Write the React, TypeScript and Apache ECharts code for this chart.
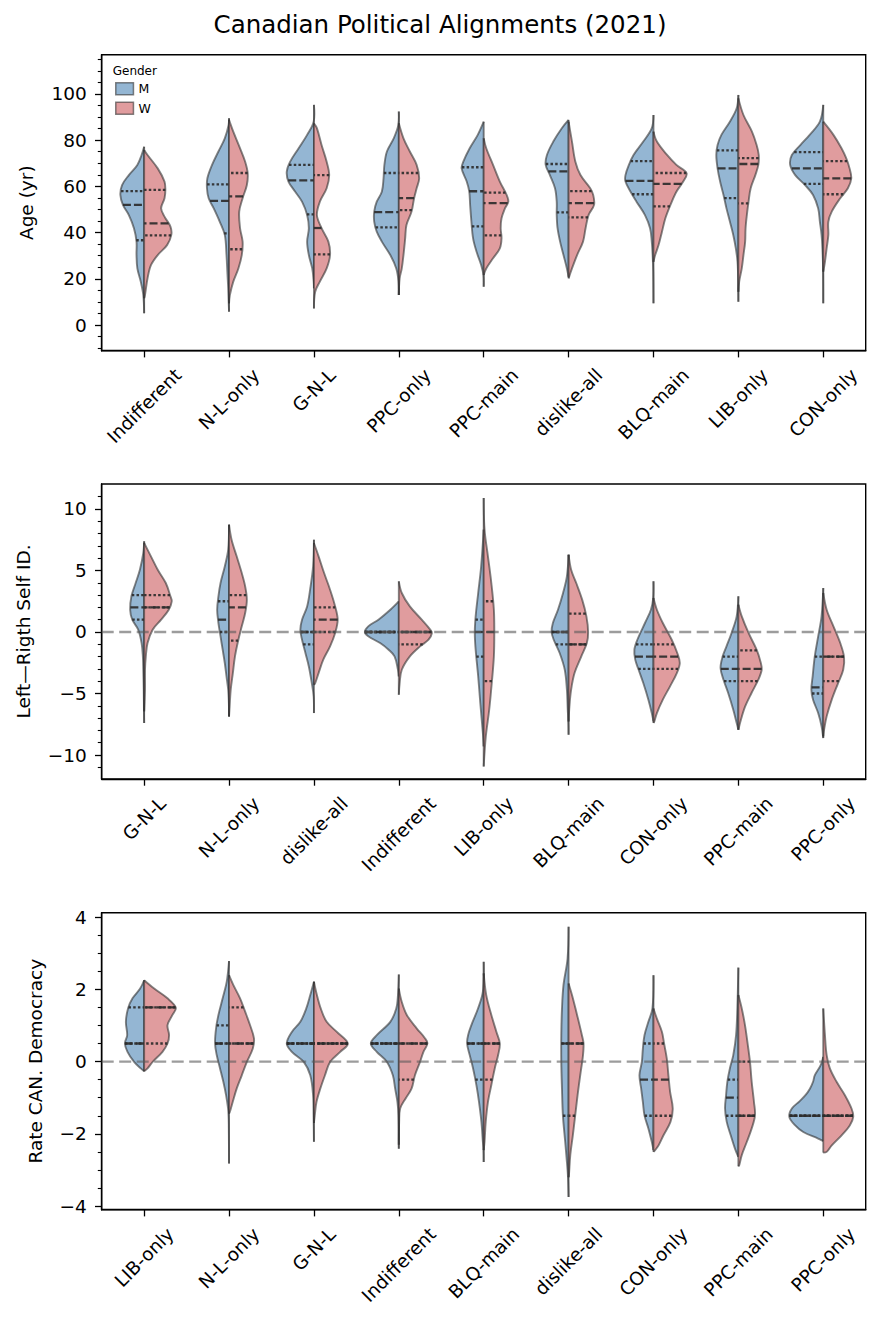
import React, { useEffect, useRef } from 'react';
import * as echarts from 'echarts';

type Pt = [number, number];

// ---------------- Panel 1: Age ----------------
const ageCats = ['Indifferent', 'N-L-only', 'G-N-L', 'PPC-only', 'PPC-main', 'dislike-all', 'BLQ-main', 'LIB-only', 'CON-only'];
const ageMen: Pt[][] = [
  [[77.2,0],[73.6,.03],[69.3,.08],[64.9,.18],[60.6,.26],[56.3,.28],[52.0,.25],[47.6,.18],[41.9,.12],[36.1,.09],[30.3,.09],[24.5,.08],[18.8,.04],[13.0,.01],[5.1,0]],
  [[89.5,0],[86.6,.005],[80.8,.05],[75.1,.125],[69.3,.2],[63.5,.255],[59.2,.26],[54.9,.24],[50.5,.18],[44.8,.11],[39.0,.05],[30.3,.03],[23.1,.02],[15.9,.01],[8.7,.003],[5.8,0]],
  [[95.3,0],[88.0,.003],[82.3,.08],[76.5,.18],[70.7,.28],[66.4,.32],[62.1,.3],[57.7,.22],[53.4,.14],[47.6,.08],[41.9,.06],[36.1,.08],[30.3,.06],[24.5,.02],[18.8,.003],[15.9,0]],
  [[92.4,0],[86.6,.005],[80.8,.06],[75.1,.14],[69.3,.17],[63.5,.18],[57.7,.2],[53.4,.26],[49.1,.29],[44.8,.29],[40.4,.26],[36.1,.2],[30.3,.1],[24.5,.03],[18.8,.003],[13.0,0]],
  [[88.0,0],[82.3,.07],[76.5,.165],[70.7,.24],[67.8,.26],[62.1,.2],[57.7,.17],[52.0,.16],[44.8,.145],[37.5,.125],[31.8,.085],[26.0,.03],[21.7,.003],[16.6,0]],
  [[88.8,0],[85.2,.08],[79.4,.18],[73.6,.255],[69.3,.27],[64.9,.22],[59.2,.16],[53.4,.14],[47.6,.14],[41.9,.13],[36.1,.1],[30.3,.06],[24.5,.02],[20.9,0]],
  [[90.9,0],[85.2,.02],[79.4,.12],[73.6,.235],[69.3,.29],[64.9,.33],[62.1,.33],[57.7,.27],[53.4,.2],[47.6,.1],[41.9,.04],[36.1,.02],[30.3,.01],[23.1,.003],[9.4,0]],
  [[99.6,0],[93.8,.02],[88.0,.1],[82.3,.2],[77.9,.245],[73.6,.26],[67.8,.245],[62.1,.215],[56.3,.175],[50.5,.14],[44.8,.1],[39.0,.06],[33.2,.03],[27.4,.01],[18.8,.002],[10.1,0]],
  [[95.3,0],[88.0,.04],[82.3,.16],[77.9,.27],[73.6,.37],[69.3,.39],[64.9,.33],[60.6,.215],[56.3,.12],[50.5,.06],[44.8,.04],[39.0,.02],[33.2,.01],[24.5,.002],[9.4,0]],
];
const ageWomen: Pt[][] = [
  [[75.8,0],[73.6,.04],[67.8,.16],[62.1,.24],[58.5,.25],[54.9,.24],[50.5,.2],[46.9,.24],[42.6,.31],[39.0,.32],[34.6,.27],[30.3,.16],[25.9,.08],[20.2,.04],[13.0,.01],[11.6,0]],
  [[88.8,0],[83.7,.05],[76.5,.13],[70.7,.19],[65.7,.22],[60.6,.21],[54.9,.16],[49.1,.12],[41.9,.13],[36.1,.16],[30.3,.15],[24.5,.11],[18.8,.05],[13.0,.01],[9.4,0]],
  [[87.3,0],[85.2,.035],[77.9,.09],[70.7,.15],[64.9,.18],[59.2,.15],[53.4,.07],[47.6,.035],[41.9,.09],[36.1,.17],[30.3,.19],[24.5,.15],[18.8,.07],[14.4,.015],[7.2,0]],
  [[87.3,0],[80.8,.055],[75.1,.13],[69.3,.21],[63.5,.24],[59.2,.21],[54.9,.18],[49.1,.15],[43.3,.09],[37.5,.075],[30.3,.055],[24.5,.035],[20.2,.01],[13.0,0]],
  [[80.8,0],[76.5,.03],[69.3,.11],[62.1,.19],[56.3,.27],[53.4,.29],[50.5,.25],[46.2,.21],[41.9,.2],[37.5,.21],[33.2,.19],[28.9,.11],[24.5,.03],[21.7,0]],
  [[88.0,0],[79.4,.04],[70.7,.08],[64.9,.14],[59.2,.255],[56.3,.29],[52.0,.3],[47.6,.235],[41.9,.2],[36.1,.17],[30.3,.1],[24.5,.04],[20.2,0]],
  [[83.7,0],[79.4,.04],[73.6,.16],[69.3,.27],[65.7,.39],[62.1,.35],[57.7,.27],[52.0,.2],[46.2,.14],[40.4,.1],[34.6,.06],[30.3,.02],[27.4,0]],
  [[98.1,0],[90.9,.06],[83.7,.16],[77.9,.215],[73.6,.24],[69.3,.235],[64.9,.2],[59.2,.145],[53.4,.12],[47.6,.1],[41.9,.085],[36.1,.08],[30.3,.06],[24.5,.04],[18.8,.01],[14.4,0]],
  [[88.0,0],[82.3,.12],[76.5,.215],[72.2,.27],[67.8,.31],[63.5,.33],[59.2,.29],[54.9,.2],[49.1,.1],[44.8,.06],[39.0,.06],[33.2,.04],[27.4,.02],[23.1,0]],
];
const ageMenQ = [[36.7,52.0,58.0],[39.7,53.7,60.9],[47.9,62.6,69.3],[42.3,48.9,65.8],[42.7,57.9,68.3],[48.8,66.5,69.7],[56.6,62.4,70.9],[54.9,67.8,75.6],[61.1,67.8,74.8]];
const ageWomenQ = [[38.8,44.0,58.5],[32.8,55.7,65.8],[30.6,42.0,64.9],[49.7,54.9,65.8],[38.8,52.8,57.3],[46.6,52.8,58.0],[51.4,61.1,65.8],[52.7,69.7,72.2],[56.6,63.5,70.9]];
const ageTicks = [0, 20, 40, 60, 80, 100];
const ageMinor = [-10,-5,5,10,15,25,30,35,45,50,55,65,70,75,85,90,95,105,110,115];

// ---------------- Panel 2: Left-Right ----------------
const lrCats = ['G-N-L', 'N-L-only', 'dislike-all', 'Indifferent', 'LIB-only', 'BLQ-main', 'CON-only', 'PPC-main', 'PPC-only'];
const lrMen: Pt[][] = [
  [[7.37,0],[6.42,.01],[5.06,.05],[3.98,.1],[2.9,.15],[1.81,.165],[1.0,.14],[0.19,.07],[-0.9,.03],[-1.98,.015],[-3.07,.01],[-4.69,.005],[-6.5,.002],[-7.4,0]],
  [[8.72,0],[6.69,.01],[5.33,.05],[3.98,.1],[2.9,.125],[1.81,.14],[0.73,.125],[-0.36,.1],[-1.44,.075],[-2.52,.05],[-3.61,.03],[-4.69,.01],[-5.78,.002],[-6.86,0]],
  [[7.5,0],[5.33,.01],[3.44,.045],[2.08,.08],[1.0,.14],[0.19,.16],[-0.63,.14],[-1.71,.1],[-2.8,.06],[-4.15,.025],[-5.23,.003],[-6.59,0]],
  [[2.49,0],[1.81,.1],[1.0,.24],[0.46,.36],[0,.4],[-0.35,.36],[-0.9,.22],[-1.44,.12],[-1.98,.05],[-3.07,.01],[-3.61,0]],
  [[8.32,0],[5.33,.03],[3.17,.065],[1.27,.095],[-0.08,.105],[-1.44,.095],[-3.61,.065],[-5.78,.04],[-8.21,.01],[-9.3,0]],
  [[6.28,0],[4.52,.02],[3.17,.065],[1.81,.125],[0.73,.185],[0,.2],[-0.63,.175],[-1.71,.105],[-3.07,.045],[-4.69,.02],[-6.32,.01],[-7.4,.002],[-8.35,0]],
  [[4.12,0],[2.76,.003],[1.81,.03],[0.73,.1],[-0.63,.19],[-1.44,.225],[-2.25,.215],[-3.07,.175],[-4.15,.12],[-5.5,.06],[-6.59,.02],[-7.27,0]],
  [[2.9,0],[1.27,.02],[-0.08,.08],[-1.17,.14],[-1.98,.185],[-2.93,.21],[-3.88,.175],[-4.96,.12],[-6.32,.06],[-7.4,.02],[-7.94,0]],
  [[3.57,0],[1.27,.02],[-0.36,.06],[-1.98,.1],[-3.61,.125],[-4.69,.14],[-5.5,.12],[-6.59,.06],[-7.67,.02],[-8.62,0]],
];
const lrWomen: Pt[][] = [
  [[7.23,0],[6.15,.08],[5.06,.16],[3.98,.255],[2.9,.31],[2.49,.325],[1.81,.29],[1.0,.2],[0.19,.1],[-0.9,.04],[-1.98,.02],[-3.07,.01],[-4.69,.01],[-6.45,0]],
  [[8.72,0],[7.5,.03],[6.15,.09],[4.79,.15],[3.71,.19],[2.63,.21],[1.54,.19],[0.46,.15],[-0.63,.11],[-1.98,.07],[-3.34,.045],[-4.69,.02],[-6.32,.005],[-6.86,0]],
  [[7.23,0],[6.15,.055],[4.79,.12],[3.44,.19],[2.08,.25],[1.0,.28],[-0.08,.25],[-1.17,.19],[-2.25,.11],[-3.34,.055],[-4.15,.015],[-4.29,0]],
  [[4.12,0],[3.17,.035],[2.08,.13],[1.0,.27],[0.19,.37],[-0.08,.39],[-0.63,.35],[-1.17,.25],[-1.98,.13],[-3.07,.035],[-4.15,.01],[-5.1,0]],
  [[10.89,0],[8.32,.01],[6.15,.05],[3.98,.09],[1.81,.12],[-0.08,.125],[-1.98,.12],[-4.15,.095],[-6.32,.065],[-8.49,.025],[-10.93,0]],
  [[6.28,0],[5.06,.03],[3.98,.09],[2.63,.16],[1.27,.21],[0,.23],[-0.9,.215],[-1.98,.15],[-3.34,.07],[-4.69,.03],[-6.05,.01],[-7.27,0]],
  [[2.76,0],[1.81,.04],[0.73,.11],[-0.63,.215],[-1.71,.28],[-2.52,.31],[-3.34,.275],[-4.42,.195],[-5.5,.11],[-6.59,.04],[-7.27,.01],[-7.4,0]],
  [[2.22,0],[1.27,.04],[-0.08,.12],[-1.44,.215],[-2.52,.265],[-3.07,.275],[-3.88,.235],[-4.96,.155],[-6.05,.08],[-7.13,.03],[-7.94,0]],
  [[3.17,0],[1.81,.04],[0.46,.12],[-0.9,.2],[-2.04,.245],[-3.07,.235],[-4.15,.175],[-5.5,.1],[-6.86,.04],[-7.94,.01],[-8.49,0]],
];
const lrMenQ = [[1,2,3],[0,1,2.5],[-1,0,0],[0,0,0],[-2,0,1],[-1,0,0],[-3,-2,-1],[-4,-3,-2],[-5,-4.5,-2]];
const lrWomenQ = [[2,2,3],[-0.7,2,3],[0,1,2],[-1,0,0],[-4,0,2.5],[-1,-1,1.5],[-3,-2,-1],[-4,-3,-1.5],[-4,-2,-2]];
const lrTicks = [-10, -5, 0, 5, 10];
const lrMinor = [-11,-9,-8,-7,-6,-4,-3,-2,-1,1,2,3,4,6,7,8,9,11];

// ---------------- Panel 3: Democracy rating ----------------
const demCats = ['LIB-only', 'N-L-only', 'G-N-L', 'Indifferent', 'BLQ-main', 'dislike-all', 'CON-only', 'PPC-main', 'PPC-only'];
const demMen: Pt[][] = [
  [[2.25,0],[2.02,.047],[1.75,.137],[1.47,.19],[1.1,.215],[0.73,.2],[0.5,.227],[0.27,.196],[-0.01,.118],[-0.19,.04],[-0.27,0]],
  [[2.78,0],[2.21,.027],[1.75,.075],[1.29,.125],[0.92,.153],[0.5,.165],[0.18,.145],[-0.19,.106],[-0.56,.067],[-0.93,.035],[-1.39,.008],[-2.04,.002],[-2.82,0]],
  [[2.21,0],[1.84,.043],[1.47,.09],[1.1,.16],[0.82,.26],[0.5,.32],[0.27,.26],[-0.01,.12],[-0.38,.043],[-0.93,.01],[-1.49,.004],[-2.22,0]],
  [[2.41,0],[1.84,.01],[1.47,.03],[1.1,.1],[0.73,.26],[0.5,.33],[0.27,.26],[-0.01,.14],[-0.38,.07],[-0.75,.043],[-1.12,.016],[-1.49,.004],[-2.41,0]],
  [[2.76,0],[1.93,.01],[1.47,.067],[1.01,.145],[0.73,.184],[0.5,.196],[0.18,.165],[-0.19,.125],[-0.65,.086],[-1.12,.055],[-1.67,.027],[-2.22,.01],[-2.45,.002],[-2.78,0]],
  [[3.73,0],[2.85,.012],[2.12,.06],[1.47,.078],[0.73,.086],[-0.01,.086],[-0.75,.078],[-1.49,.067],[-2.22,.04],[-2.78,.02],[-3.15,.008],[-3.75,0]],
  [[2.39,0],[1.47,.012],[1.1,.06],[0.73,.106],[0.36,.125],[-0.01,.137],[-0.38,.165],[-0.75,.145],[-1.12,.125],[-1.49,.106],[-1.85,.06],[-2.22,.02],[-2.45,0]],
  [[2.6,0],[1.47,.012],[0.73,.027],[0.18,.06],[-0.19,.1],[-0.56,.13],[-0.93,.145],[-1.3,.157],[-1.67,.137],[-2.04,.09],[-2.41,.04],[-2.64,0]],
  [[0.13,0],[-0.1,.03],[-0.38,.1],[-0.56,.12],[-0.75,.157],[-0.93,.21],[-1.1,.28],[-1.3,.37],[-1.53,.4],[-1.76,.333],[-1.95,.235],[-2.13,.06],[-2.2,0]],
];
const demWomen: Pt[][] = [
  [[2.25,0],[2.02,.118],[1.75,.275],[1.49,.373],[1.29,.333],[1.01,.275],[0.73,.294],[0.5,.275],[0.27,.216],[-0.01,.1],[-0.19,.04],[-0.27,0]],
  [[2.39,0],[2.12,.05],[1.75,.13],[1.38,.19],[1.01,.247],[0.64,.294],[0.36,.28],[-0.01,.21],[-0.38,.15],[-0.75,.09],[-1.12,.043],[-1.39,.01],[-1.44,0]],
  [[2.21,0],[1.84,.035],[1.47,.08],[1.1,.15],[0.82,.27],[0.5,.4],[0.27,.31],[-0.01,.19],[-0.38,.13],[-0.75,.075],[-1.12,.03],[-1.49,.01],[-1.7,0]],
  [[2.02,0],[1.65,.035],[1.29,.094],[0.92,.21],[0.64,.31],[0.5,.337],[0.27,.29],[-0.01,.25],[-0.38,.19],[-0.75,.15],[-1.02,.08],[-1.3,.016],[-1.67,.004],[-2.3,0]],
  [[2.44,0],[1.84,.03],[1.29,.09],[0.82,.15],[0.5,.19],[0.18,.17],[-0.19,.13],[-0.65,.09],[-1.12,.05],[-1.67,.024],[-2.22,.01],[-2.45,0]],
  [[2.16,0],[1.84,.04],[1.29,.1],[0.73,.157],[0.5,.176],[0.18,.17],[-0.38,.137],[-0.93,.106],[-1.49,.078],[-2.04,.05],[-2.59,.02],[-3.15,.004],[-3.2,0]],
  [[1.47,0],[1.19,.04],[0.82,.1],[0.5,.125],[0.08,.157],[-0.38,.176],[-0.84,.196],[-1.3,.227],[-1.67,.2],[-2.04,.118],[-2.32,.06],[-2.45,.02],[-2.5,0]],
  [[1.84,0],[1.47,.04],[1.01,.078],[0.55,.106],[-0.01,.137],[-0.56,.157],[-1.12,.184],[-1.49,.196],[-1.85,.157],[-2.22,.1],[-2.59,.04],[-2.87,.01],[-2.9,0]],
  [[1.47,0],[0.73,.02],[0.18,.04],[-0.19,.078],[-0.56,.157],[-0.93,.255],[-1.3,.333],[-1.53,.353],[-1.76,.314],[-2.04,.216],[-2.32,.1],[-2.5,.04],[-2.52,0]],
];
const demMenQ = [[0.5,0.5,1.5],[0.5,0.5,1],[0.5,0.5,0.5],[0.5,0.5,0.5],[-0.5,0.5,0.5],[-1.5,0.5,0.5],[-1.5,-0.5,0.5],[-1.5,-1.0,-0.5],[-1.5,-1.5,-1.5]];
const demWomenQ = [[0.5,1.5,1.5],[0.5,0.5,1.5],[0.5,0.5,0.5],[-0.5,0.5,0.5],[-0.5,0.5,0.5],[-1.5,0.5,0.5],[-1.5,-0.5,0.5],[-1.5,-1.5,0],[-1.5,-1.5,-1.5]];
const demTicks = [-4, -2, 0, 2, 4];
const demMinor = [-3.5,-3,-2.5,-1.5,-1,-0.5,0.5,1,1.5,2.5,3,3.5];

// ---------------- styles ----------------
const FONT = 'DejaVu Sans';
const FS = 18.5;
const BLUE = '#94b6d3';
const RED = '#e09c9e';
const EDGE = 'rgba(50,50,50,0.6)';
const INNER = 'rgba(45,45,45,0.92)';
const AXIS = '#000';

const panels = [
  { cats: ageCats, men: ageMen, women: ageWomen, menQ: ageMenQ, womenQ: ageWomenQ, ticks: ageTicks, minor: ageMinor,
    min: -11.1, max: 117.0, name: 'Age (yr)', top: 54.7, height: 296, nameGap: 75, zero: false },
  { cats: lrCats, men: lrMen, women: lrWomen, menQ: lrMenQ, womenQ: lrWomenQ, ticks: lrTicks, minor: lrMinor,
    min: -11.95, max: 12.03, name: 'Left\u2014Rigth Self ID.', top: 484, height: 295, nameGap: 78.4, zero: true },
  { cats: demCats, men: demMen, women: demWomen, menQ: demMenQ, womenQ: demWomenQ, ticks: demTicks, minor: demMinor,
    min: -4.1, max: 4.12, name: 'Rate CAN. Democracy', top: 912.7, height: 297, nameGap: 66, zero: true },
];

let measureCtx: CanvasRenderingContext2D | null = null;
function measure(text: string): number {
  if (!measureCtx) measureCtx = document.createElement('canvas').getContext('2d');
  if (!measureCtx) return text.length * FS * 0.6;
  measureCtx.font = `${FS}px "${FONT}"`;
  return measureCtx.measureText(text).width;
}

function widthAt(pts: Pt[], v: number): number {
  for (let k = 0; k < pts.length - 1; k++) {
    const a = pts[k], b = pts[k + 1];
    if ((a[0] - v) * (b[0] - v) <= 0) {
      const t = a[0] === b[0] ? 0 : (v - a[0]) / (b[0] - a[0]);
      return a[1] + t * (b[1] - a[1]);
    }
  }
  return 0;
}

function violinRender(shapes: Pt[][], quarts: number[][], sign: number, fill: string) {
  return (params: any, api: any) => {
    const i = params.dataIndex;
    const pts = shapes[i];
    const cx = api.coord([i, 0])[0];
    const unit = api.size([1, 0])[0];
    const P = pts.map(([v, w]) => [cx + sign * w * unit, api.coord([i, v])[1]]);
    const yTop = P[0][1];
    const yBot = P[P.length - 1][1];
    const children: any[] = [
      { type: 'polyline', shape: { points: P, smooth: 0.35 },
        style: { fill, stroke: EDGE, lineWidth: 1.9, lineJoin: 'round' } },
      { type: 'line', shape: { x1: cx, y1: yTop, x2: cx, y2: yBot },
        style: { stroke: EDGE, lineWidth: 1.9 } },
    ];
    quarts[i].forEach((q, k) => {
      const w = widthAt(pts, q);
      const y = api.coord([i, q])[1];
      children.push({
        type: 'line',
        shape: { x1: cx + sign * w * unit, y1: y, x2: cx, y2: y },
        style: { stroke: INNER, lineWidth: 2.3, lineDash: k === 1 ? [8, 3] : [2.5, 2.2], lineCap: 'butt' },
      });
    });
    return { type: 'group', children };
  };
}

function labelRender(cats: string[]) {
  return (params: any, api: any) => {
    const i = params.dataIndex;
    const cx = api.coord([i, 0])[0];
    const cs = params.coordSys;
    const bottom = cs.y + cs.height;
    const w = measure(cats[i]);
    const h = FS * 1.17;
    const y = bottom + 13.5 + 0.3536 * (w + h);
    return {
      type: 'text', x: cx, y, rotation: Math.PI / 4,
      style: { text: cats[i], fontSize: FS, fontFamily: FONT, fill: '#000', align: 'center', verticalAlign: 'middle' },
    };
  };
}

function zeroRender(params: any, api: any) {
  const cs = params.coordSys;
  const y = api.coord([0, 0])[1];
  return {
    type: 'line',
    shape: { x1: cs.x, y1: y, x2: cs.x + cs.width, y2: y },
    style: { stroke: 'rgba(90,90,90,0.6)', lineWidth: 2.3, lineDash: [12, 5.5] },
  };
}

const fmt = (v: number) => (v < 0 ? '\u2212' + Math.abs(v) : String(v));

function buildOption() {
  const grid: any[] = [];
  const xAxis: any[] = [];
  const yAxis: any[] = [];
  const series: any[] = [];
  panels.forEach((p, pi) => {
    grid.push({ left: 101.7, top: p.top, width: 764, height: p.height, show: true,
      borderColor: AXIS, borderWidth: 1.4, backgroundColor: 'transparent', containLabel: false });
    xAxis.push({
      type: 'category', gridIndex: pi, data: p.cats, boundaryGap: true, position: 'bottom',
      axisLine: { show: true, onZero: false, lineStyle: { color: AXIS, width: 1.4 } },
      axisTick: { show: true, alignWithLabel: true, interval: 0, length: 6.7, lineStyle: { color: AXIS, width: 1.3 } },
      axisLabel: { show: false }, splitLine: { show: false },
    });
    yAxis.push({
      type: 'value', gridIndex: pi, min: p.min, max: p.max, position: 'left',
      axisLine: { show: true, onZero: false, lineStyle: { color: AXIS, width: 1.4 } },
      axisTick: { show: true, length: 6.7, customValues: p.ticks, lineStyle: { color: AXIS, width: 1.3 } },
      axisLabel: { show: true, customValues: p.ticks, formatter: fmt, fontSize: FS, fontFamily: FONT, color: '#000', margin: 15 },
      splitLine: { show: false },
      name: p.name, nameLocation: 'middle', nameGap: p.nameGap,
      nameTextStyle: { fontSize: FS, fontFamily: FONT, color: '#000', verticalAlign: 'middle' },
    });
    yAxis.push({
      type: 'value', gridIndex: pi, min: p.min, max: p.max, position: 'left',
      axisLine: { show: false, onZero: false },
      axisTick: { show: true, length: 3.9, customValues: p.minor, lineStyle: { color: AXIS, width: 1.1 } },
      axisLabel: { show: false }, splitLine: { show: false },
    });
    const data = p.cats.map((_, i) => [i, 0]);
    series.push({
      type: 'custom', name: 'M', xAxisIndex: pi, yAxisIndex: pi * 2, data, encode: { x: 0, y: 1 },
      renderItem: violinRender(p.men, p.menQ, -1, BLUE), itemStyle: { color: BLUE }, z: 2, silent: true,
    });
    series.push({
      type: 'custom', name: 'W', xAxisIndex: pi, yAxisIndex: pi * 2, data, encode: { x: 0, y: 1 },
      renderItem: violinRender(p.women, p.womenQ, 1, RED), itemStyle: { color: RED }, z: 2, silent: true,
    });
    series.push({
      type: 'custom', name: 'labels' + pi, xAxisIndex: pi, yAxisIndex: pi * 2, data, encode: { x: 0, y: 1 },
      renderItem: labelRender(p.cats), clip: false, z: 4, silent: true,
    });
    if (p.zero) {
      series.push({
        type: 'custom', name: 'zero' + pi, xAxisIndex: pi, yAxisIndex: pi * 2, data: [[0, 0]], encode: { x: 0, y: 1 },
        renderItem: zeroRender, z: 3, silent: true,
      });
    }
  });
  return {
    animation: false,
    backgroundColor: '#fff',
    textStyle: { fontFamily: FONT },
    title: {
      text: 'Canadian Political Alignments (2021)', left: 'center', top: 7,
      textStyle: { fontSize: 24.5, fontWeight: 'normal', color: '#000', fontFamily: FONT },
    },
    legend: {
      orient: 'vertical', left: 115, top: 82, itemWidth: 17.7, itemHeight: 12, itemGap: 6, icon: 'rect',
      selectedMode: false, padding: 0,
      textStyle: { fontSize: 12.5, color: '#000', fontFamily: FONT },
      data: [
        { name: 'M', itemStyle: { color: BLUE, borderColor: EDGE, borderWidth: 1.5 } },
        { name: 'W', itemStyle: { color: RED, borderColor: EDGE, borderWidth: 1.5 } },
      ],
    },
    graphic: [
      { type: 'text', left: 112.7, top: 65, style: { text: 'Gender', fontSize: 12, fontFamily: FONT, fill: '#000' } },
    ],
    grid, xAxis, yAxis, series,
  };
}

export default function App() {
  const ref = useRef<HTMLDivElement>(null);
  useEffect(() => {
    if (!ref.current) return;
    const chart = echarts.init(ref.current, null, { renderer: 'svg' });
    chart.setOption(buildOption() as any);
    return () => chart.dispose();
  }, []);
  return <div ref={ref} style={{ position: 'absolute', left: 0, top: 0, width: 880, height: 1329 }} />;
}
